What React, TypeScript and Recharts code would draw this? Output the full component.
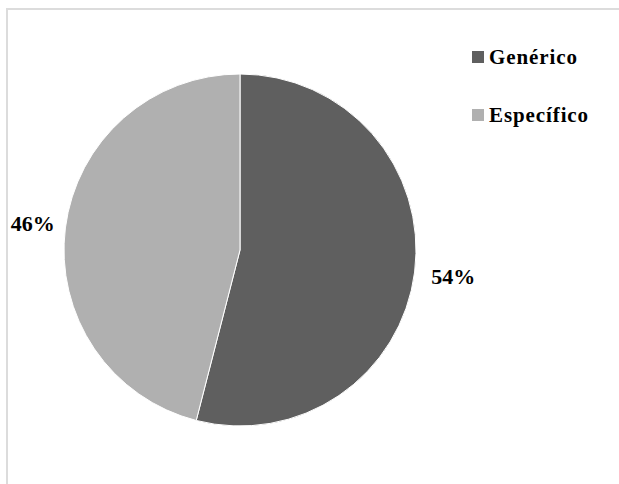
import React from "react";
import { PieChart, Pie, Cell, Legend } from "recharts";

const categories = ["Genérico", "Específico"];
const shares = [54, 46];
const colors = ["#5f5f5f", "#b0b0b0"];

const data = categories.map((name, i) => ({ name, value: shares[i] }));

const FONT = "'Liberation Serif', 'DejaVu Serif', serif";
const RAD = Math.PI / 180;

function renderLabel(props: any) {
  const { cx, cy, midAngle, outerRadius, value } = props;
  const r = outerRadius + 36;
  const x = cx + r * Math.cos(-midAngle * RAD) + 3;
  const y = cy + r * Math.sin(-midAngle * RAD);
  return (
    <text
      x={x}
      y={y}
      textAnchor="middle"
      dominantBaseline="central"
      fill="#000"
      style={{ fontFamily: FONT, fontWeight: "bold", fontSize: 22 }}
    >
      {`${value}%`}
    </text>
  );
}

function LegendContent({ payload }: any) {
  const items = [...(payload ?? [])].sort(
    (a: any, b: any) => categories.indexOf(a.value) - categories.indexOf(b.value)
  );
  return (
    <div>
      {items.map((entry: any) => (
        <div
          key={entry.value}
          style={{
            display: "flex",
            alignItems: "center",
            height: 58,
            fontFamily: FONT,
            fontWeight: "bold",
            fontSize: 21,
            letterSpacing: 0.9,
            color: "#000",
          }}
        >
          <span style={{ width: 12, height: 12, background: entry.color, marginRight: 5, display: "inline-block" }} />
          {entry.value}
        </div>
      ))}
    </div>
  );
}

export default function App() {
  return (
    <div style={{ position: "fixed", left: 0, top: 0, width: 619, height: 484, background: "#fff", overflow: "hidden" }}>
      <div
        style={{
          position: "absolute",
          left: 6,
          top: 8,
          width: 640,
          height: 500,
          borderLeft: "2px solid #dcdcdc",
          borderTop: "2px solid #dcdcdc",
        }}
      />
      <PieChart
        width={619}
        height={484}
        margin={{ top: 0, right: 0, bottom: 0, left: 0 }}
        style={{ position: "absolute", left: 0, top: 0 }}
      >
        <Pie
          data={data}
          dataKey="value"
          nameKey="name"
          cx={240}
          cy={250}
          outerRadius={176}
          startAngle={90}
          endAngle={-270}
          stroke="#fff"
          strokeWidth={1}
          label={renderLabel}
          labelLine={false}
          isAnimationActive={false}
        >
          {data.map((d, i) => (
            <Cell key={d.name} fill={colors[i]} />
          ))}
        </Pie>
        <Legend
          layout="vertical"
          verticalAlign="top"
          align="right"
          content={<LegendContent />}
          wrapperStyle={{ left: 472, top: 28, width: 140 }}
        />
      </PieChart>
    </div>
  );
}
